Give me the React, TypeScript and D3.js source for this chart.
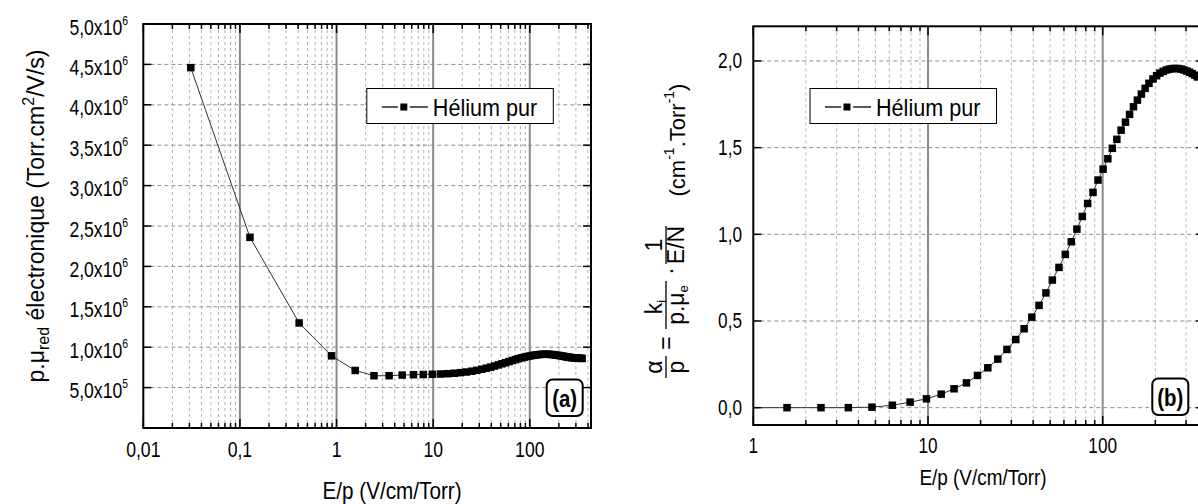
import React from "react";
import * as d3 from "d3";

// ---------- DATA ----------
// E/p values (V/cm/Torr) shared by both panels
const epValues = [
  0.031, 0.127, 0.41, 0.887, 1.56, 2.44, 3.5, 4.78, 6.25, 7.9, 9.8, 11.9, 14.1, 16.6, 19.2, 22.0,
  25.1, 28.3, 31.8, 35.5, 39.3, 43.2, 47.3, 51.5, 56.2, 61.1, 66.1, 71.2, 76.4, 82.0, 88.0, 94.0,
  100.5, 107, 113.5, 120.5, 127.5, 135, 142.5, 150, 158, 166.5, 175, 184, 194, 203.5, 212.5, 222,
  231.5, 241, 251, 261, 271, 281.5, 292, 303, 314, 325, 337, 348,
];
// (a) reduced electron mobility p.mu (Torr.cm2/V/s)
const mobilityValues = [
  4.46e6, 2.36e6, 1.3e6, 0.893e6, 0.712e6, 0.647e6, 0.647e6, 0.655e6, 0.66e6, 0.662e6, 0.665e6,
  0.668e6, 0.672e6, 0.678e6, 0.685e6, 0.693e6, 0.703e6, 0.714e6, 0.727e6, 0.74e6, 0.753e6,
  0.767e6, 0.781e6, 0.795e6, 0.808e6, 0.822e6, 0.835e6, 0.847e6, 0.858e6, 0.868e6, 0.877e6,
  0.885e6, 0.892e6, 0.898e6, 0.903e6, 0.907e6, 0.91e6, 0.912e6, 0.913e6, 0.913e6, 0.912e6,
  0.91e6, 0.907e6, 0.904e6, 0.9e6, 0.896e6, 0.892e6, 0.888e6, 0.884e6, 0.88e6, 0.877e6, 0.874e6,
  0.871e6, 0.869e6, 0.867e6, 0.865e6, 0.864e6, 0.863e6, 0.862e6, 0.861e6,
];
// (b) reduced ionisation coefficient alpha/p (cm-1.Torr-1)
const alphaValues = [
  0, 0, 0, 0, 0, 0, 0, 0.003, 0.014, 0.032, 0.051, 0.078, 0.109, 0.143, 0.186, 0.23, 0.28, 0.336,
  0.393, 0.455, 0.522, 0.59, 0.662, 0.736, 0.809, 0.884, 0.957, 1.03, 1.103, 1.178, 1.242, 1.313,
  1.376, 1.436, 1.496, 1.548, 1.601, 1.647, 1.692, 1.736, 1.774, 1.809, 1.842, 1.871, 1.896,
  1.915, 1.93, 1.94, 1.948, 1.953, 1.956, 1.957, 1.956, 1.953, 1.948, 1.942, 1.935, 1.927,
  1.918, 1.908,
];

const seriesName = "Hélium pur";
const xTitle = "E/p (V/cm/Torr)";

const leftXTicks = [0.01, 0.1, 1, 10, 100];
const leftXTickLabels = ["0,01", "0,1", "1", "10", "100"];
const leftYTicks = [5e5, 1e6, 1.5e6, 2e6, 2.5e6, 3e6, 3.5e6, 4e6, 4.5e6, 5e6];
const leftYMantissa = ["5,0", "1,0", "1,5", "2,0", "2,5", "3,0", "3,5", "4,0", "4,5", "5,0"];
const leftYExponent = ["5", "6", "6", "6", "6", "6", "6", "6", "6", "6"];

const rightXTicks = [1, 10, 100];
const rightXTickLabels = ["1", "10", "100"];
const rightYTicks = [0, 0.5, 1, 1.5, 2];
const rightYTickLabels = ["0,0", "0,5", "1,0", "1,5", "2,0"];

const FONT = "'Liberation Sans', Arial, Helvetica, sans-serif";

function minorTicks(domain: [number, number]) {
  const out: number[] = [];
  const lo = Math.floor(Math.log10(domain[0]));
  const hi = Math.ceil(Math.log10(domain[1]));
  for (let e = lo; e <= hi; e++) {
    for (let m = 2; m <= 9; m++) {
      const v = m * Math.pow(10, e);
      if (v > domain[0] && v < domain[1]) out.push(v);
    }
  }
  return out;
}

function T(props: any) {
  const { x, y, fs, sx = 1, anchor = "middle", weight = "normal", rotate = 0, children } = props;
  return (
    <g transform={`translate(${x},${y}) rotate(${rotate}) scale(${sx},1)`}>
      <text fontSize={fs} textAnchor={anchor} fontWeight={weight} fontFamily={FONT} fill="#000">
        {children}
      </text>
    </g>
  );
}

function Panel(props: any) {
  const { id, x, y, xTicks, xTickLabels, yTicks, yTickLabel, ys, ylabelX, xLabelY, legendX, tag, tagX, tagY, titleX, titleY, titleFs, titleSx, tickFs, tickSx } = props;
  const [x0, x1] = x.range();
  const [yb, yt] = y.range();
  const xd = x.domain() as [number, number];
  const minors = minorTicks(xd);
  const majors = xTicks.filter((v: number) => v > xd[0] && v < xd[1]);
  const pts = epValues.map((e, i) => [e, ys[i]] as [number, number]);
  const line = d3
    .line<[number, number]>()
    .x((d) => x(d[0]))
    .y((d) => y(d[1]));
  const ms = 7.5;
  return (
    <g>
      <defs>
        <clipPath id={`clip-${id}`}>
          <rect x={x0} y={yt} width={x1 - x0} height={yb - yt} />
        </clipPath>
      </defs>
      {/* grid */}
      {minors.map((v, i) => (
        <line key={"mg" + i} x1={x(v)} x2={x(v)} y1={yt} y2={yb} stroke="#b4b4b4" strokeWidth={1} strokeDasharray="3,3" />
      ))}
      {yTicks.map((v: number, i: number) => (
        <line key={"hg" + i} x1={x0} x2={x1} y1={y(v)} y2={y(v)} stroke="#8c8c8c" strokeWidth={1} strokeDasharray="4,3" />
      ))}
      {majors.map((v: number, i: number) => (
        <line key={"Mg" + i} x1={x(v)} x2={x(v)} y1={yt} y2={yb} stroke="#8a8a8a" strokeWidth={2} />
      ))}
      {/* data */}
      <g clipPath={`url(#clip-${id})`}>
        <path d={line(pts) || ""} fill="none" stroke="#333" strokeWidth={1} />
        {pts.map((p, i) => (
          <rect key={"p" + i} x={x(p[0]) - ms / 2} y={y(p[1]) - ms / 2} width={ms} height={ms} fill="#000" />
        ))}
      </g>
      {/* ticks */}
      {minors.map((v, i) => (
        <g key={"mt" + i}>
          <line x1={x(v)} x2={x(v)} y1={yb} y2={yb - 5} stroke="#000" strokeWidth={1.5} />
          <line x1={x(v)} x2={x(v)} y1={yt} y2={yt + 5} stroke="#000" strokeWidth={1.5} />
        </g>
      ))}
      {xTicks.map((v: number, i: number) => (
        <g key={"Mt" + i}>
          <line x1={x(v)} x2={x(v)} y1={yb} y2={yb - 9} stroke="#000" strokeWidth={1.5} />
          <line x1={x(v)} x2={x(v)} y1={yt} y2={yt + 9} stroke="#000" strokeWidth={1.5} />
          <T x={x(v)} y={xLabelY} fs={tickFs} sx={tickSx}>{xTickLabels[i]}</T>
        </g>
      ))}
      {yTicks.map((v: number, i: number) => (
        <g key={"yt" + i}>
          <line x1={x0} x2={x0 + 8} y1={y(v)} y2={y(v)} stroke="#000" strokeWidth={1.5} />
          <line x1={x1} x2={x1 - 8} y1={y(v)} y2={y(v)} stroke="#000" strokeWidth={1.5} />
          {yTickLabel(v, i, ylabelX, y(v))}
        </g>
      ))}
      {/* frame */}
      <rect x={x0} y={yt} width={x1 - x0} height={yb - yt} fill="none" stroke="#000" strokeWidth={2} />
      {/* legend */}
      <rect x={legendX} y={88.5} width={186.5} height={35} fill="#fff" stroke="#000" strokeWidth={1} />
      <line x1={legendX + 15} x2={legendX + 31} y1={107} y2={107} stroke="#000" strokeWidth={1.3} />
      <rect x={legendX + 33.5} y={103.5} width={7} height={7} fill="#000" />
      <line x1={legendX + 43} x2={legendX + 61} y1={107} y2={107} stroke="#000" strokeWidth={1.3} />
      <T x={legendX + 66} y={115.5} fs={23.5} sx={0.92} anchor="start">{seriesName}</T>
      {/* tag */}
      <rect x={tagX} y={tagY} width={36} height={36.5} rx={6} ry={6} fill="#fff" stroke="#000" strokeWidth={2} />
      <T x={tagX + 18} y={tagY + 27} fs={24} sx={0.85} weight="bold">{tag}</T>
      {/* x title */}
      <T x={titleX} y={titleY} fs={titleFs} sx={titleSx}>{xTitle}</T>
    </g>
  );
}

export default function App() {
  const xL = d3.scaleLog().domain([0.01, 430]).range([143.3, 591]);
  const yL = d3.scaleLinear().domain([0, 5e6]).range([428, 24]);
  const xR = d3.scaleLog().domain([1, 380]).range([753.3, 753.3 + Math.log10(380) * 174.7]);
  const yR = d3.scaleLinear().domain([-0.1, 2.2]).range([425, 26.3]);

  const leftYLabel = (v: number, i: number, lx: number, py: number) => (
    <g transform={`translate(${lx},${py + 10.5}) scale(0.8,1)`}>
      <text fontSize={22} textAnchor="end" fontFamily={FONT}>
        {leftYMantissa[i]}x10
        <tspan fontSize={13} dy={-10}>{leftYExponent[i]}</tspan>
      </text>
    </g>
  );
  const rightYLabel = (v: number, i: number, lx: number, py: number) => (
    <T x={lx} y={py + 7.5} fs={21.5} sx={0.8} anchor="end">{rightYTickLabels[i]}</T>
  );

  const fs2 = 23;
  return (
    <svg width={1198} height={504} style={{ position: "absolute", left: 0, top: 0, background: "#fff" }}>
      <rect x={0} y={0} width={1198} height={504} fill="#fff" />
      <Panel
        id="a" x={xL} y={yL} xTicks={leftXTicks} xTickLabels={leftXTickLabels}
        yTicks={leftYTicks} yTickLabel={leftYLabel} ys={mobilityValues} ylabelX={128}
        xLabelY={457} legendX={366.8} tag="(a)" tagX={546.7} tagY={379.5}
        titleX={392} titleY={499} titleFs={23} titleSx={0.9} tickFs={22} tickSx={0.8}
      />
      <Panel
        id="b" x={xR} y={yR} xTicks={rightXTicks} xTickLabels={rightXTickLabels}
        yTicks={rightYTicks} yTickLabel={rightYLabel} ys={alphaValues} ylabelX={742}
        xLabelY={453} legendX={810} tag="(b)" tagX={1152.3} tagY={378.5}
        titleX={983} titleY={485} titleFs={21.5} titleSx={0.88} tickFs={21.5} tickSx={0.8}
      />
      {/* left y title */}
      <g transform="translate(44,216) rotate(-90)">
        <text fontSize={23} textAnchor="middle" fontFamily={FONT}>
          p.μ<tspan fontSize={16} dy={5}>red</tspan>
          <tspan dy={-5}> électronique (Torr.cm</tspan>
          <tspan fontSize={16} dy={-10}>2</tspan>
          <tspan dy={10}>/V/s)</tspan>
        </text>
      </g>
      {/* right y title */}
      <g transform="translate(666,400) rotate(-90)" fontFamily={FONT} fill="#000">
        {/* alpha / p */}
        <text x={33} y={-4} fontSize={fs2} textAnchor="middle">α</text>
        <line x1={22} x2={44} y1={0} y2={0} stroke="#000" strokeWidth={1.3} />
        <text x={33} y={18} fontSize={fs2} textAnchor="middle">p</text>
        <text x={57} y={8} fontSize={fs2} textAnchor="middle">=</text>
        {/* k_i / p.mu_e */}
        <text x={93} y={-4} fontSize={fs2} textAnchor="middle">k<tspan fontSize={13} dy={4}>i</tspan></text>
        <line x1={71} x2={119} y1={0} y2={0} stroke="#000" strokeWidth={1.3} />
        <text x={95} y={18} fontSize={fs2} textAnchor="middle">p.μ<tspan fontSize={13} dy={4}>e</tspan></text>
        <text x={129} y={7} fontSize={fs2} textAnchor="middle">.</text>
        {/* 1 / (E/N) */}
        <text x={155} y={-4} fontSize={fs2} textAnchor="middle">1</text>
        <line x1={136} x2={174} y1={0} y2={0} stroke="#000" strokeWidth={1.3} />
        <text x={155} y={18} fontSize={fs2} textAnchor="middle">E/N</text>
        {/* units */}
        <text x={260} y={19} fontSize={22} textAnchor="middle">
          (cm<tspan fontSize={14} dy={-11}>-1</tspan>
          <tspan dy={11}>.Torr</tspan>
          <tspan fontSize={14} dy={-11}>-1</tspan>
          <tspan dy={11}>)</tspan>
        </text>
      </g>
    </svg>
  );
}
